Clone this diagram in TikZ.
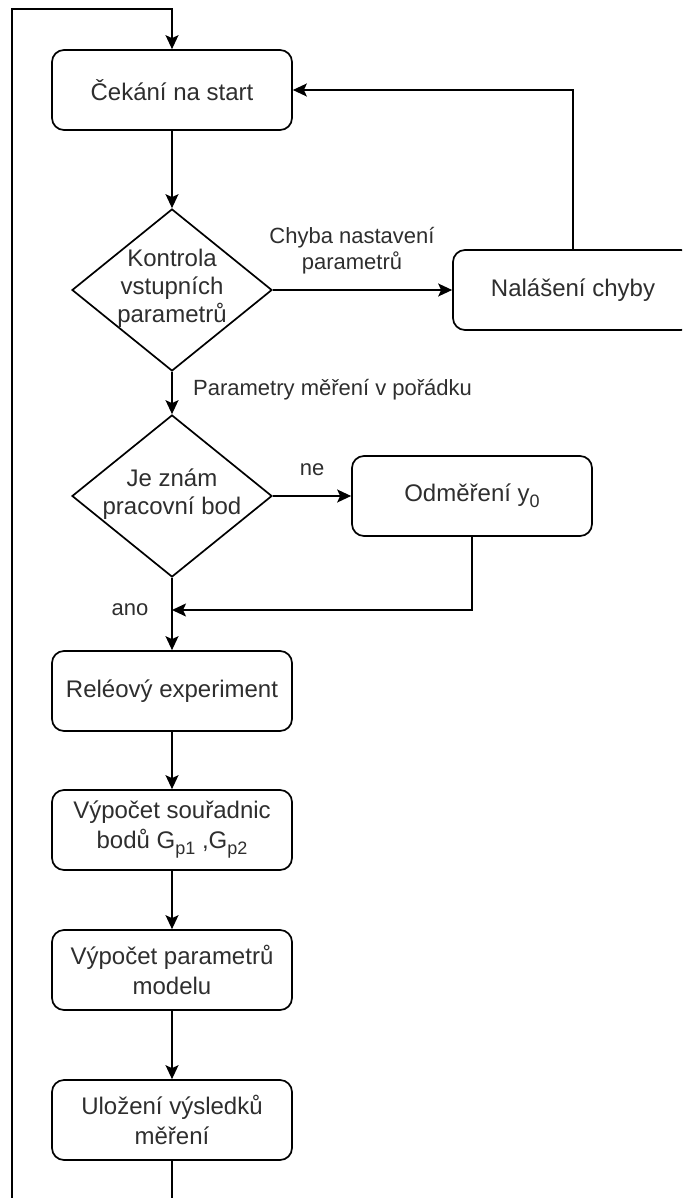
\documentclass[tikz,border=0pt]{standalone}
\usepackage{fontspec}
\setmainfont{Liberation Sans}
\usetikzlibrary{shapes.geometric,arrows.meta}
\newcommand{\mysub}[1]{\raisebox{-6pt}{\fontsize{18}{18}\selectfont #1}}
\begin{document}
\begin{tikzpicture}[x=1pt,y=-1pt,
  box/.style={draw, line width=1.7pt, rounded corners=12pt, minimum width=240pt, minimum height=80pt, align=center, font=\fontsize{24}{30}\selectfont, inner sep=0pt, text=black!82},
  dec/.style={draw, diamond, line width=1.7pt, minimum width=200pt, minimum height=162pt, inner sep=0pt},
  dtxt/.style={align=center, font=\fontsize{24}{28}\selectfont, inner sep=0pt, text=black!82},
  lbl/.style={font=\fontsize{22}{26}\selectfont, align=center, inner sep=0pt, text=black!82},
  ln/.style={line width=1.7pt},
  arr/.style={ln, -{Stealth[length=14pt,width=13pt,inset=3pt]}}]
\clip (0,0) rectangle (682,1198);
\fill[white] (0,0) rectangle (682,1198);

% nodes
\node[box] (start) at (172,90) {Čekání na start};
\node[dec] (kon) at (172,290) {};
\node[dtxt] (kont) at (172,288) {Kontrola\\vstupních\\parametrů};
\node[box] (nal) at (573,290) {Nalášení chyby};
\node[dec] (je) at (172,496) {};
\node[dtxt] (jet) at (172,494) {Je znám\\pracovní bod};
\node[box] (odm) at (472,496) {Odměření y\mysub{0}};
\node[box] (rel) at (172,691) {Reléový experiment};
\node[box] (vs) at (172,830) {Výpočet souřadnic\\bodů G\mysub{p1} ,G\mysub{p2}};
\node[box] (vp) at (172,970) {Výpočet parametrů\\modelu};
\node[box] (ul) at (172,1120) {Uložení výsledků\\měření};

% labels
\node[lbl] (l1) at (352,251) {Chyba nastavení\\parametrů};
\node[lbl, anchor=west] (l2) at (193,390) {Parametry měření v pořádku};
\node[lbl] (l3) at (312,470) {ne};
\node[lbl] (l4) at (130,610) {ano};

% coordinates
\coordinate (m) at (172,610);
\coordinate (b1) at (172,1220);
\coordinate (b2) at (12,1220);
\coordinate (t1) at (12,9);
\coordinate (t2) at (172,9);

% connectors
\draw[arr] (start) -- (kon.north);
\draw[arr] (kon.east) -- (nal.west);
\draw[arr] (nal.north) |- (start.east);
\draw[arr] (kon.south) -- (je.north);
\draw[arr] (je.east) -- (odm.west);
\draw[arr] (odm.south) |- (m);
\draw[arr] (je.south) -- (rel.north);
\draw[arr] (rel) -- (vs);
\draw[arr] (vs) -- (vp);
\draw[arr] (vp) -- (ul);
\draw[arr] (ul.south) -- (b1) -- (b2) -- (t1) -- (t2) -- (start.north);
\end{tikzpicture}
\end{document}
